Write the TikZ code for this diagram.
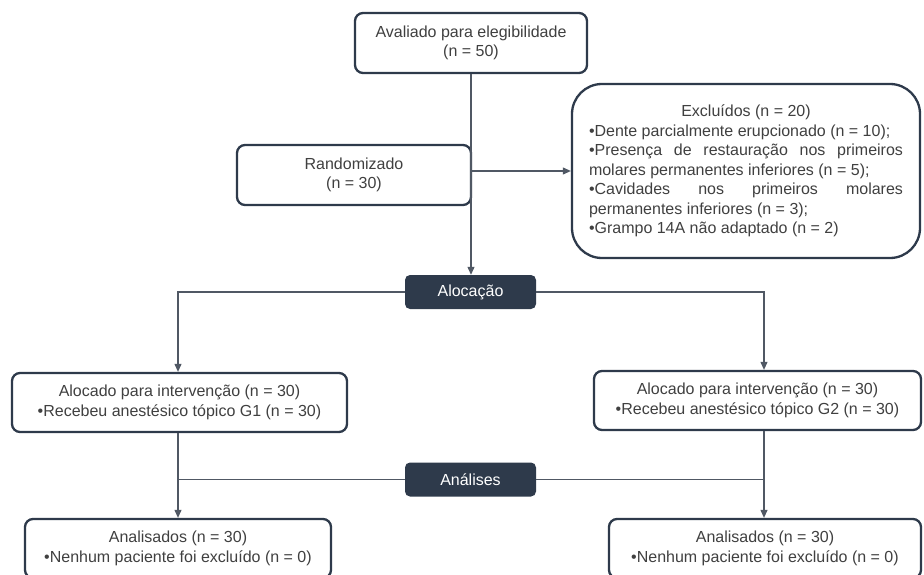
\documentclass[tikz,border=0pt]{standalone}
\usepackage{fontspec}
\setmainfont{Liberation Sans}
\usetikzlibrary{arrows.meta}
\definecolor{slate}{RGB}{46,58,75}
\definecolor{txtgray}{RGB}{64,64,64}
\definecolor{wire}{RGB}{80,88,100}
\begin{document}
\begin{tikzpicture}[x=1pt, y=-1pt]
  \tikzstyle{box}=[rectangle, rounded corners=8pt, draw=slate, line width=2.3pt, fill=white, text=txtgray, align=center, inner sep=0pt, font=\fontsize{16}{19.5}\selectfont]
  \tikzstyle{phase}=[rectangle, rounded corners=5pt, fill=slate, text=white, minimum width=131pt, minimum height=34pt, inner sep=0pt, font=\fontsize{16}{19.5}\selectfont]
  \tikzstyle{wire}=[draw=wire, line width=1.1pt]
  \tikzstyle{arr}=[wire, -{Triangle[length=8pt, width=7pt]}]
    \useasboundingbox (0,0) rectangle (924,575);
    \clip (0,0) rectangle (924,575);
    \node[box, minimum width=232pt, minimum height=60pt] (AV) at (471,43) {Avaliado para elegibilidade\\(n = 50)};
    \node[box, minimum width=234pt, minimum height=60pt] (RA) at (354,175) {Randomizado\\(n = 30)};
    \node[box, rounded corners=30pt, minimum width=348pt, minimum height=174pt] (EX) at (746,171) {\begin{minipage}{314pt}\hyphenpenalty=10000\parindent=0pt
      {\centering Exclu\'idos (n = 20)\par}
      •Dente parcialmente erupcionado (n = 10);\par
      •Presença de restauração nos primeiros\linebreak molares permanentes inferiores (n = 5);\par
      •Cavidades nos primeiros molares\linebreak permanentes inferiores (n = 3);\par
      •Grampo 14A não adaptado (n = 2)\end{minipage}};
    \node[phase] (AL) at (470.5,292) {Alocação};
    \node[box, minimum width=335pt, minimum height=59pt] (G1) at (179.5,402.5) {Alocado para intervenção (n = 30)\\•Recebeu anestésico tópico G1 (n = 30)};
    \node[box, minimum width=327pt, minimum height=59pt] (G2) at (757.5,400.5) {Alocado para intervenção (n = 30)\\•Recebeu anestésico tópico G2 (n = 30)};
    \node[phase] (AN) at (470.5,479.5) {Análises};
    \node[box, minimum width=306pt, minimum height=59pt] (A1) at (178,548.5) {Analisados (n = 30)\\•Nenhum paciente foi excluído (n = 0)};
    \node[box, minimum width=312pt, minimum height=59pt] (A2) at (765,548.5) {Analisados (n = 30)\\•Nenhum paciente foi excluído (n = 0)};
    \draw[arr] (AV.south) -- (AV.south |- AL.north);
    \draw[arr] (AV.south |- EX.west) -- (EX.west);
    \draw[arr] (AL.west) -| ([xshift=-1.5pt]G1.north);
    \draw[arr] (AL.east) -| ([xshift=6.5pt]G2.north);
    \draw[arr] (A1.north |- G1.south) -- (A1.north);
    \draw[arr] ([xshift=-1pt]A2.north |- G2.south) -- ([xshift=-1pt]A2.north);
    \draw[wire] (AN.west) -- (A1.north |- AN.west);
    \draw[wire] (AN.east) -- ([xshift=-1pt]A2.north |- AN.east);
\end{tikzpicture}
\end{document}
